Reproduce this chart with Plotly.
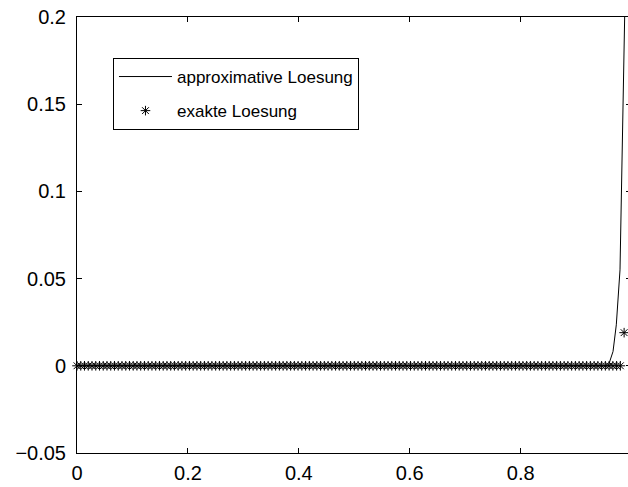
import numpy as np
import plotly.graph_objects as go

# approximate solution (polyline)
approx_x = [0.0, 0.958, 0.9665, 0.9724, 0.9791, 0.9845, 0.9875]
approx_y = [0.0, 0.0, 0.0082, 0.0235, 0.055, 0.141, 0.200]

# exact solution sampled on the grid (visible points)
n_grid = 148
exact_x = list(np.linspace(0, 1, n_grid + 1)[:147])
exact_y = [0.0] * 146 + [0.019]

x_ticks = [0, 0.2, 0.4, 0.6, 0.8, 1]
y_ticks = [-0.05, 0, 0.05, 0.1, 0.15, 0.2]

FONT = "Liberation Sans, Arial, Helvetica, sans-serif"
TICK_SIZE = 20

fig = go.Figure()
fig.add_trace(go.Scatter(
    x=approx_x, y=approx_y, mode="lines",
    line=dict(color="black", width=1),
    name="approximative Loesung", legendgroup="a",
))
fig.add_trace(go.Scatter(
    x=exact_x, y=exact_y, mode="markers",
    marker=dict(symbol="asterisk-open", size=8, color="black",
                line=dict(color="black", width=1)),
    cliponaxis=False,
    name="exakte Loesung", legendgroup="b",
))
fig.add_trace(go.Scatter(x=[None], y=[None], yaxis="y2", showlegend=False,
                         hoverinfo="skip"))

fig.update_layout(
    width=628, height=487, autosize=False,
    margin=dict(l=77, r=0, t=17, b=34),
    paper_bgcolor="white", plot_bgcolor="white",
    font=dict(family=FONT, size=TICK_SIZE, color="black"),
    xaxis=dict(range=[0, 0.9935], tickvals=x_ticks, ticks="inside", ticklen=5,
               tickcolor="black", showline=True, linecolor="black", linewidth=1,
               mirror="ticks", showgrid=False, zeroline=False,
               ticklabelstandoff=2,
               tickfont=dict(size=TICK_SIZE, family=FONT, color="black")),
    yaxis=dict(range=[-0.05, 0.2], tickvals=y_ticks, ticks="inside", ticklen=5,
               tickcolor="black", showline=True, linecolor="black", linewidth=1,
               mirror=False, showgrid=False, zeroline=False,
               ticklabelstandoff=6,
               tickfont=dict(size=TICK_SIZE, family=FONT, color="black")),
    yaxis2=dict(range=[-0.05, 0.2], tickvals=y_ticks, overlaying="y", side="right",
                ticks="inside", ticklen=2, tickcolor="black", showticklabels=False,
                showline=False, showgrid=False, zeroline=False),
    legend=dict(x=0.0653, y=0.906, xanchor="left", yanchor="top",
                bordercolor="black", borderwidth=1, bgcolor="white",
                itemwidth=53, tracegroupgap=9,
                font=dict(size=17, family=FONT, color="black")),
    showlegend=True,
)

fig.write_html("out.html", config={"displayModeBar": False})

with open("out.html", "r", encoding="utf-8") as f:
    html = f.read()
html = html.replace("<head>", "<head><style>html,body{margin:0;padding:0;overflow:hidden;}</style>", 1)
with open("out.html", "w", encoding="utf-8") as f:
    f.write(html)
